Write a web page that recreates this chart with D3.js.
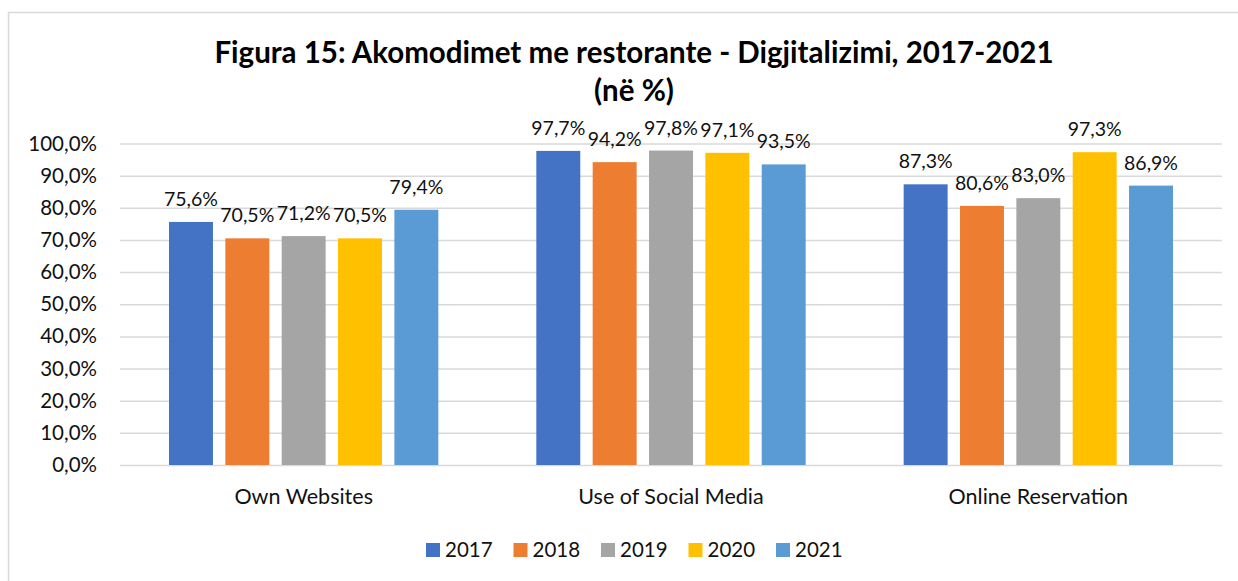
<!DOCTYPE html>
<html>
<head>
<meta charset="utf-8">
<script src="https://cdn.jsdelivr.net/npm/d3@7"></script>
<style>
  body { margin: 0; background: #fff; }
  svg { font-family: Lato, "Open Sans", sans-serif; }
</style>
</head>
<body>
<svg id="chart" width="1238" height="581"></svg>
<script>
// data
var categories = ["Own Websites", "Use of Social Media", "Online Reservation"];
var years = ["2017", "2018", "2019", "2020", "2021"];
var values = {
  "2017": [75.6, 97.7, 87.3],
  "2018": [70.5, 94.2, 80.6],
  "2019": [71.2, 97.8, 83.0],
  "2020": [70.5, 97.1, 97.3],
  "2021": [79.4, 93.5, 86.9]
};
var yTicks = [0, 10, 20, 30, 40, 50, 60, 70, 80, 90, 100];
var colors = ["#4472C4", "#ED7D31", "#A5A5A5", "#FFC000", "#5B9BD5"];

var svg = d3.select("#chart");

// chart frame
svg.append("rect")
  .attr("x", 8.5).attr("y", 12.5)
  .attr("width", 1260).attr("height", 600)
  .attr("fill", "none")
  .attr("stroke", "#d9d9d9")
  .attr("stroke-width", 1.5);

var fmt = function(v){ return d3.format(".1f")(v).replace(".", ",") + "%"; };

var x0 = d3.scaleBand().domain(categories).range([120, 1222]);
var x1 = d3.scaleBand().domain(years).range([49, x0.bandwidth() - 49]).paddingInner(0.22);
var y = d3.scaleLinear().domain([0, 100]).range([465, 143.5]);
var color = d3.scaleOrdinal().domain(years).range(colors);

// title
var title = svg.append("text")
  .attr("text-anchor", "middle")
  .attr("font-weight", "bold")
  .attr("font-size", 29.5)
  .attr("fill", "#000");
title.append("tspan").attr("x", 634).attr("y", 63)
  .text("Figura 15: Akomodimet me restorante - Digjitalizimi, 2017-2021");
title.append("tspan").attr("x", 634).attr("y", 101)
  .text("(në %)");

// y axis with grid
var yAxis = svg.append("g")
  .attr("transform", "translate(120,0)")
  .call(d3.axisLeft(y).tickValues(yTicks).tickSize(-1102).tickFormat(fmt));
yAxis.select(".domain").remove();
yAxis.selectAll(".tick line").attr("stroke", "#d9d9d9").attr("stroke-width", 1.5);
yAxis.selectAll(".tick text")
  .attr("x", -23)
  .attr("font-size", 20.5)
  .attr("font-family", "Lato, sans-serif")
  .attr("fill", "#111");

// bars
var rows = [];
categories.forEach(function(c, i){
  years.forEach(function(yr){
    rows.push({cat: c, year: yr, value: values[yr][i]});
  });
});

var g = svg.append("g");
g.selectAll("rect.bar")
  .data(rows)
  .enter()
  .append("rect")
  .attr("class", "bar")
  .attr("x", function(d){ return x0(d.cat) + x1(d.year); })
  .attr("y", function(d){ return y(d.value); })
  .attr("width", x1.bandwidth())
  .attr("height", function(d){ return y(0) - y(d.value); })
  .attr("fill", function(d){ return color(d.year); });

g.selectAll("text.lbl")
  .data(rows)
  .enter()
  .append("text")
  .attr("class", "lbl")
  .attr("x", function(d){ return x0(d.cat) + x1(d.year) + x1.bandwidth() / 2; })
  .attr("y", function(d){ return y(d.value) - 16; })
  .attr("text-anchor", "middle")
  .attr("font-size", 19.5)
  .attr("fill", "#111")
  .text(function(d){ return fmt(d.value); });

// category labels
var xAxis = svg.append("g")
  .attr("transform", "translate(0,465)")
  .call(d3.axisBottom(x0).tickSize(0));
xAxis.select(".domain").remove();
xAxis.selectAll(".tick text")
  .attr("y", 39)
  .attr("dy", 0)
  .attr("font-size", 21.5)
  .attr("font-family", "Lato, sans-serif")
  .attr("fill", "#111");

// legend
var legend = svg.append("g")
  .selectAll("g")
  .data(years)
  .enter()
  .append("g")
  .attr("transform", function(d, i){ return "translate(" + (426 + i * 87.5) + ",543)"; });
legend.append("rect")
  .attr("width", 14).attr("height", 14)
  .attr("fill", function(d){ return color(d); });
legend.append("text")
  .attr("x", 19).attr("y", 14)
  .attr("font-size", 20.5)
  .attr("fill", "#111")
  .text(function(d){ return d; });
</script>
</body>
</html>
